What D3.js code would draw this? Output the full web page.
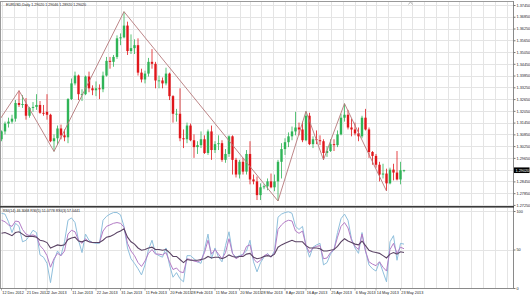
<!DOCTYPE html>
<html>
<head>
<meta charset="utf-8">
<script src="https://cdnjs.cloudflare.com/ajax/libs/d3/7.8.5/d3.min.js"></script>
<style>
html, body { margin: 0; padding: 0; background: #fff; }
svg { display: block; font-family: "Liberation Sans", Arial, sans-serif; }
</style>
</head>
<body>
<svg id="chart" width="530" height="296"></svg>
<script>
// ---- data ----
const titleText = "EURUSD,Daily  1.29020 1.29046 1.28920 1.29020";
const rsiTitle = "RSI(14) 46.3068  RSI(5) 51.0778  RSI(3) 57.0441";

// daily candles [open, high, low, close]
const candles = [
  [1.3060,1.3105,1.3050,1.3100],[1.3100,1.3150,1.3085,1.3140],[1.3140,1.3170,1.3120,1.3150],[1.3150,1.3185,1.3140,1.3165],
  [1.3165,1.3260,1.3150,1.3245],[1.3245,1.3308,1.3225,1.3235],[1.3235,1.3285,1.3220,1.3240],[1.3240,1.3270,1.3160,1.3180],
  [1.3180,1.3225,1.3170,1.3220],[1.3220,1.3250,1.3200,1.3225],[1.3225,1.3290,1.3210,1.3235],[1.3235,1.3255,1.3190,1.3195],
  [1.3195,1.3235,1.3180,1.3190],[1.3200,1.3290,1.3160,1.3185],[1.3185,1.3190,1.3045,1.3050],[1.3050,1.3085,1.2998,1.3065],
  [1.3065,1.3130,1.3030,1.3115],[1.3115,1.3135,1.3060,1.3080],[1.3080,1.3110,1.3050,1.3070],[1.3070,1.3270,1.3040,1.3265],
  [1.3265,1.3370,1.3260,1.3345],[1.3345,1.3405,1.3335,1.3385],[1.3385,1.3390,1.3260,1.3290],[1.3290,1.3315,1.3255,1.3290],
  [1.3290,1.3385,1.3285,1.3380],[1.3380,1.3405,1.3300,1.3320],[1.3320,1.3335,1.3285,1.3310],[1.3310,1.3355,1.3280,1.3320],
  [1.3320,1.3340,1.3265,1.3315],[1.3315,1.3405,1.3300,1.3385],[1.3385,1.3480,1.3380,1.3460],[1.3460,1.3480,1.3420,1.3455],
  [1.3455,1.3490,1.3430,1.3480],[1.3480,1.3590,1.3470,1.3575],[1.3575,1.3600,1.3540,1.3580],[1.3580,1.3711,1.3575,1.3640],
  [1.3640,1.3660,1.3490,1.3510],[1.3510,1.3595,1.3495,1.3525],[1.3525,1.3570,1.3495,1.3540],[1.3540,1.3575,1.3385,1.3400],
  [1.3400,1.3420,1.3350,1.3365],[1.3365,1.3410,1.3345,1.3395],[1.3395,1.3475,1.3380,1.3455],[1.3455,1.3520,1.3420,1.3445],
  [1.3445,1.3455,1.3320,1.3360],[1.3360,1.3385,1.3320,1.3360],[1.3360,1.3375,1.3320,1.3345],[1.3345,1.3425,1.3335,1.3395],
  [1.3395,1.3400,1.3260,1.3280],[1.3280,1.3285,1.3145,1.3190],[1.3190,1.3215,1.3150,1.3190],[1.3190,1.3320,1.3050,1.3065],
  [1.3065,1.3110,1.3015,1.3060],[1.3060,1.3145,1.3040,1.3130],[1.3130,1.3140,1.3050,1.3055],[1.3055,1.3085,1.2965,1.3020],
  [1.3020,1.3050,1.2985,1.3030],[1.3030,1.3100,1.3015,1.3060],[1.3060,1.3080,1.2985,1.2990],[1.2990,1.3110,1.2980,1.3100],
  [1.3100,1.3130,1.2955,1.3005],[1.3005,1.3050,1.2990,1.3035],[1.3035,1.3080,1.3005,1.3040],[1.3040,1.3055,1.2945,1.2955],
  [1.2955,1.3010,1.2940,1.2985],[1.2985,1.3080,1.2970,1.3075],[1.3075,1.3080,1.2880,1.2955],[1.2955,1.2965,1.2865,1.2880],
  [1.2880,1.2955,1.2860,1.2945],[1.2945,1.2965,1.2880,1.2895],[1.2895,1.3005,1.2880,1.2985],[1.2985,1.3050,1.2830,1.2855],
  [1.2855,1.2880,1.2830,1.2845],[1.2845,1.2870,1.2750,1.2775],[1.2775,1.2835,1.2750,1.2815],[1.2815,1.2830,1.2805,1.2820],
  [1.2820,1.2860,1.2800,1.2845],[1.2845,1.2885,1.2810,1.2815],[1.2815,1.2880,1.2795,1.2845],[1.2845,1.2955,1.2745,1.2945],
  [1.2945,1.3040,1.2860,1.3010],[1.3010,1.3065,1.2980,1.3045],[1.3045,1.3095,1.3020,1.3075],[1.3075,1.3125,1.3055,1.3100],
  [1.3100,1.3200,1.3080,1.3120],[1.3120,1.3145,1.3080,1.3110],[1.3110,1.3150,1.3045,1.3055],[1.3055,1.3203,1.3050,1.3180],
  [1.3180,1.3195,1.3030,1.3035],[1.3035,1.3075,1.3015,1.3060],[1.3060,1.3105,1.3035,1.3055],[1.3055,1.3080,1.3030,1.3050],
  [1.3050,1.3060,1.2955,1.2990],[1.2990,1.3025,1.2970,1.3000],[1.3000,1.3060,1.2995,1.3035],[1.3035,1.3060,1.3000,1.3030],
  [1.3030,1.3105,1.3020,1.3085],[1.3085,1.3190,1.3080,1.3170],[1.3170,1.3242,1.3150,1.3185],[1.3185,1.3210,1.3110,1.3120],
  [1.3120,1.3165,1.3075,1.3110],[1.3110,1.3145,1.3080,1.3090],[1.3090,1.3120,1.3050,1.3075],[1.3075,1.3180,1.3065,1.3170],
  [1.3170,1.3215,1.3105,1.3110],[1.3110,1.3120,1.2965,1.2995],[1.2995,1.3000,1.2930,1.2975],[1.2975,1.2985,1.2915,1.2930],
  [1.2930,1.2945,1.2845,1.2880],[1.2880,1.2935,1.2860,1.2885],[1.2885,1.2910,1.2796,1.2835],[1.2835,1.2915,1.2830,1.2905],
  [1.2905,1.2935,1.2850,1.2890],[1.2890,1.3000,1.2850,1.2855],[1.2855,1.2945,1.2830,1.2902],[1.2902,1.29046,1.2892,1.2902]
];

// zigzag turning points: bar index, price (first one lies left of the visible window)
const zigzagBars   = [-2,     5,      15,     35,     79,     87,     92,     98,     110];
const zigzagPrices = [1.3120, 1.3308, 1.2998, 1.3711, 1.2745, 1.3203, 1.2955, 1.3242, 1.2796];

// RSI lines, one value per bar
const rsi14 = [71,72,70,68,72,73,70,67,67,67,66,62,61,59,52,54,56,55,56,63,65,66,61,60,62,60,59,59,59,62,
  66,67,69,72,74,77,66,60,57,52,49,50,52,53,50,50,49,50,46,41,41,37,33,37,36,36,36,37,38,41,
  39,40,40,38,40,43,41,40,41,41,44,45,40,38,39,41,42,41,44,53,56,58,60,62,60,60,60,55,52,52,
  52,51,48,48,49,50,54,60,64,61,59,57,56,61,55,49,47,46,45,42,39,44,46,44,47,46];
const rsi5 = [88,86,82,80,87,86,76,70,68,69,67,55,50,42,27,38,45,42,48,70,75,73,62,58,64,60,59,59,59,74,
  80,82,84,85,84,79,58,48,42,33,28,35,45,50,44,44,43,46,34,24,26,21,20,38,37,35,34,36,46,62,
  44,50,44,38,46,64,45,38,41,43,54,56,38,33,36,42,44,40,46,76,82,86,88,87,74,71,74,55,46,52,
  54,55,38,39,46,50,66,80,85,78,62,54,50,70,48,34,31,29,34,27,22,50,58,45,53,51];
const rsi3 = [97,96,86,72,84,80,60,62,68,75,72,43,40,32,7,36,48,42,60,88,91,85,62,46,70,62,59,58,58,88,
  93,96,98,98,95,80,52,38,32,25,17,30,50,62,45,42,40,52,30,14,20,12,8,42,42,38,34,32,50,70,
  38,52,40,34,55,73,45,40,42,44,48,62,34,21,33,40,45,40,48,92,96,98,99,97,80,76,80,55,40,53,
  56,58,30,33,44,50,72,90,96,88,64,52,45,72,48,30,25,22,34,21,8,60,68,36,58,57];

// axis labels
const priceTicks = [1.37450,1.36850,1.36250,1.35650,1.35050,1.34450,1.33850,1.33250,1.32650,
  1.32050,1.31450,1.30850,1.30250,1.29650,1.29050,1.28450,1.27850,1.27250];
const lastPrice = 1.29020;
const rsiTicks = [100, 50, 0];
const dateLabels = ["12 Dec 2012","21 Dec 2012","2 Jan 2013","11 Jan 2013","22 Jan 2013","31 Jan 2013",
  "11 Feb 2013","20 Feb 2013","28 Feb 2013","11 Mar 2013","20 Mar 2013","28 Mar 2013","8 Apr 2013",
  "16 Apr 2013","25 Apr 2013","6 May 2013","14 May 2013","23 May 2013"];
const dateLabelBars = [0,7,13,20,27,34,41,48,54,61,68,74,81,87,94,101,107,114];

// ---- layout ----
const plotRight = 513;
const mainTop = 2, mainBottom = 206;
const rsiTop = 208, rsiBottom = 288;
const bull = "#2fb457", bear = "#e0161b";

const svg = d3.select("#chart");

const x = d3.scaleLinear().domain([0, candles.length - 1]).range([1.5, 404]);
const y = d3.scaleLinear().domain([1.37450, 1.27250]).range([5, 204.92]);
const yR = d3.scaleLinear().domain([0, 100]).range([288, 211]);

// vertical grid: at every date label and half way between
let gridBars = [];
for (let i = 0; i < dateLabelBars.length; i++) {
  gridBars.push(dateLabelBars[i]);
  if (i < dateLabelBars.length - 1) gridBars.push((dateLabelBars[i] + dateLabelBars[i + 1]) / 2);
}
let gb = dateLabelBars[dateLabelBars.length - 1];
while (x(gb + 3.37) < plotRight - 2) { gb += 3.37; gridBars.push(gb); }
const gridX = gridBars.map(b => Math.round(x(b)) + 0.5);

const grid = svg.append("g").attr("stroke", "#e4e4e4").attr("stroke-width", 1);
gridX.forEach(gx => {
  grid.append("line").attr("x1", gx).attr("x2", gx).attr("y1", mainTop).attr("y2", mainBottom);
  grid.append("line").attr("x1", gx).attr("x2", gx).attr("y1", rsiTop).attr("y2", rsiBottom);
});
priceTicks.forEach(p => {
  const gy = Math.round(y(p)) + 0.5;
  grid.append("line").attr("x1", 1).attr("x2", plotRight).attr("y1", gy).attr("y2", gy);
});
rsiTicks.forEach(v => {
  const gy = Math.round(yR(v)) + 0.5;
  grid.append("line").attr("x1", 1).attr("x2", plotRight).attr("y1", gy).attr("y2", gy);
});

// clip for the panels
svg.append("clipPath").attr("id", "mainClip").append("rect")
  .attr("x", 1).attr("y", mainTop).attr("width", plotRight - 1).attr("height", mainBottom - mainTop);
svg.append("clipPath").attr("id", "rsiClip").append("rect")
  .attr("x", 1).attr("y", rsiTop).attr("width", plotRight - 1).attr("height", rsiBottom - rsiTop);

// candles
const cg = svg.append("g").attr("clip-path", "url(#mainClip)");
const bodyW = 2.4;
cg.selectAll(".wick").data(candles).enter().append("line")
  .attr("class", "wick")
  .attr("x1", (d, i) => x(i)).attr("x2", (d, i) => x(i))
  .attr("y1", d => y(d[1])).attr("y2", d => y(d[2]))
  .attr("stroke", d => d[3] >= d[0] ? bull : bear)
  .attr("stroke-width", 0.8);
cg.selectAll(".body").data(candles).enter().append("rect")
  .attr("class", "body")
  .attr("x", (d, i) => x(i) - bodyW / 2)
  .attr("width", bodyW)
  .attr("y", d => y(Math.max(d[0], d[3])))
  .attr("height", d => Math.max(0.8, Math.abs(y(d[0]) - y(d[3]))))
  .attr("fill", d => d[3] >= d[0] ? bull : bear);

// zigzag
const zz = zigzagBars.map((b, i) => [x(b), y(zigzagPrices[i])]);
cg.append("path").attr("d", d3.line()(zz))
  .attr("fill", "none").attr("stroke", "#b5787a").attr("stroke-width", 0.9);

// RSI lines
const rg = svg.append("g").attr("clip-path", "url(#rsiClip)");
const rsiLine = d3.line().x((d, i) => x(i)).y(d => yR(d));
rg.append("path").attr("d", rsiLine(rsi3)).attr("fill", "none").attr("stroke", "#8fbfdc").attr("stroke-width", 1);
rg.append("path").attr("d", rsiLine(rsi5)).attr("fill", "none").attr("stroke", "#b37cc6").attr("stroke-width", 1);
rg.append("path").attr("d", rsiLine(rsi14)).attr("fill", "none").attr("stroke", "#5b4465").attr("stroke-width", 1.1);

// frames
const frame = svg.append("g");
frame.append("line").attr("x1", 0).attr("x2", plotRight).attr("y1", 1.5).attr("y2", 1.5).attr("stroke", "#9a9a9a");
frame.append("line").attr("x1", 0.5).attr("x2", 0.5).attr("y1", 1).attr("y2", rsiBottom).attr("stroke", "#9a9a9a");
frame.append("line").attr("x1", plotRight + 0.5).attr("x2", plotRight + 0.5).attr("y1", 1).attr("y2", rsiBottom + 1).attr("stroke", "#8a8a8a");
frame.append("rect").attr("x", 0).attr("y", 206).attr("width", plotRight + 1).attr("height", 1.6).attr("fill", "#3a3a3a");
frame.append("line").attr("x1", 0).attr("x2", plotRight).attr("y1", rsiBottom + 0.5).attr("y2", rsiBottom + 0.5).attr("stroke", "#8a8a8a");
// chart shift marker
frame.append("path").attr("d", "M408.5,4.5 L410.5,1.8 L412.5,4.5").attr("fill", "none").attr("stroke", "#999").attr("stroke-width", 0.7);

// price axis
const fs = 3.8;
const priceAxis = d3.axisRight(y).tickValues(priceTicks.filter(p => Math.abs(p - lastPrice) > 0.002))
  .tickFormat(d3.format(".5f")).tickSize(2).tickPadding(1);
const pa = svg.append("g").attr("transform", `translate(${plotRight + 0.5},0)`).call(priceAxis);
pa.select(".domain").remove();
pa.selectAll(".tick line").attr("stroke", "#777");
pa.selectAll(".tick text").attr("font-size", fs).attr("fill", "#222").attr("font-family", "Liberation Sans, Arial, sans-serif");

// current price label
const ly = y(lastPrice);
svg.append("rect").attr("x", plotRight + 1).attr("y", ly - 2.8).attr("width", 15.5).attr("height", 5.6).attr("fill", "#000");
svg.append("text").attr("x", plotRight + 2.5).attr("y", ly + 1.4).attr("font-size", fs).attr("fill", "#fff")
  .text(d3.format(".5f")(lastPrice));

// RSI axis
const rsiAxis = d3.axisRight(yR).tickValues(rsiTicks).tickSize(2).tickPadding(1);
const ra = svg.append("g").attr("transform", `translate(${plotRight + 0.5},0)`).call(rsiAxis);
ra.select(".domain").remove();
ra.selectAll(".tick line").attr("stroke", "#777");
ra.selectAll(".tick text").attr("font-size", fs).attr("fill", "#222").attr("font-family", "Liberation Sans, Arial, sans-serif");

// time axis labels
const ta = svg.append("g");
dateLabels.forEach((t, i) => {
  const tx = x(dateLabelBars[i]);
  ta.append("line").attr("x1", tx).attr("x2", tx).attr("y1", rsiBottom + 0.5).attr("y2", rsiBottom + 2.5).attr("stroke", "#777").attr("stroke-width", 0.6);
  ta.append("text").attr("x", tx + 0.8).attr("y", 293.6).attr("font-size", fs).attr("fill", "#222").text(t);
});

// titles
svg.append("text").attr("x", 6).attr("y", 5.6).attr("font-size", 3.6).attr("fill", "#222").text(titleText);
svg.append("text").attr("x", 3).attr("y", 212.2).attr("font-size", 3.6).attr("fill", "#222").text(rsiTitle);
</script>
</body>
</html>
